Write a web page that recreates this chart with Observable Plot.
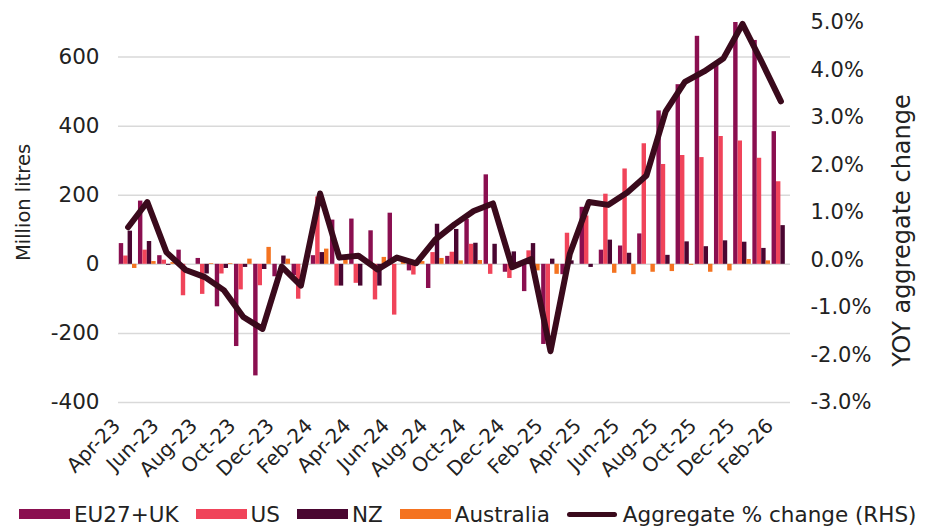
<!DOCTYPE html>
<html><head><meta charset="utf-8">
<script src="https://cdn.jsdelivr.net/npm/d3@7"></script>
<script src="https://cdn.jsdelivr.net/npm/@observablehq/plot@0.6"></script>
<style>
body{margin:0;background:#fff;font-family:"DejaVu Sans",sans-serif;}
#legend{display:flex;align-items:center;height:28px;font-size:21.5px;color:#222;padding-left:19px;white-space:nowrap}
.item{display:flex;align-items:center;margin-right:17px}
.sw{width:51px;height:10px;margin-right:4px}
.ln{width:50px;height:5px;border-radius:3px;margin-right:6px}
</style></head><body><div id="chart"></div><div id="legend"></div>
<script>
const months = ["Apr-23","May-23","Jun-23","Jul-23","Aug-23","Sep-23","Oct-23","Nov-23","Dec-23","Jan-24","Feb-24","Mar-24","Apr-24","May-24","Jun-24","Jul-24","Aug-24","Sep-24","Oct-24","Nov-24","Dec-24","Jan-25","Feb-25","Mar-25","Apr-25","May-25","Jun-25","Jul-25","Aug-25","Sep-25","Oct-25","Nov-25","Dec-25","Jan-26","Feb-26"];
const xTickLabels = ["Apr-23","Jun-23","Aug-23","Oct-23","Dec-23","Feb-24","Apr-24","Jun-24","Aug-24","Oct-24","Dec-24","Feb-25","Apr-25","Jun-25","Aug-25","Oct-25","Dec-25","Feb-26"];
const euUk = [60,183,25,41,17,-123,-238,-323,-36,-33,25,128,131,97,148,-19,-70,23,130,259,-23,-79,-232,-30,165,41,53,88,444,520,660,583,700,648,384];
const us = [24,41,12,-91,-87,-28,-74,-62,0,-101,195,-63,-55,-103,-147,-31,34,35,58,-29,-41,39,-228,90,140,203,276,349,289,315,309,370,357,307,239];
const nz = [96,66,-3,0,-28,-12,-9,-15,24,0,34,-63,-63,-63,0,0,116,101,61,58,36,60,15,10,-9,70,32,0,26,65,51,68,64,46,112];
const australia = [-12,8,5,0,2,2,15,49,15,0,44,14,0,20,8,8,17,10,11,0,0,-19,-29,0,0,-26,-30,-23,-21,-3,-23,-19,14,10,0];
const aggregatePct = [0.69,1.22,0.16,-0.21,-0.36,-0.64,-1.2,-1.45,-0.14,-0.54,1.40,0.05,0.09,-0.2,0.05,-0.07,0.43,0.75,1.03,1.19,-0.15,0.02,-1.92,0.12,1.22,1.16,1.42,1.78,3.13,3.75,3.97,4.24,4.97,4.17,3.34];
const seriesNames = ["EU27+UK","US","NZ","Australia"];
const seriesColors = ["#8a0f50","#f0445a","#4a0631","#f47320"];
const lineName = "Aggregate % change (RHS)";
const lineColor = "#3a0a1c";
const leftTicks = [-400,-200,0,200,400,600];
const rightTicks = [-3,-2,-1,0,1,2,3,4,5];
const leftDomain = [-400,700];
const rightDomain = [-3,5];

const toLeft = p => leftDomain[0] + (p - rightDomain[0]) / (rightDomain[1] - rightDomain[0]) * (leftDomain[1] - leftDomain[0]);
const toRight = v => rightDomain[0] + (v - leftDomain[0]) / (leftDomain[1] - leftDomain[0]) * (rightDomain[1] - rightDomain[0]);

const seriesValues = [euUk, us, nz, australia];
const rows = [];
months.forEach((m, i) => seriesValues.forEach((vals, k) => rows.push({i, k, series: seriesNames[k], value: vals[i]})));
const lineRows = aggregatePct.map((p, i) => ({i, p}));

const off = 0.04, bw = 0.23;
const chart = Plot.plot({
  width: 930, height: 500,
  marginLeft: 118, marginRight: 140, marginTop: 22, marginBottom: 98,
  style: {fontFamily: "DejaVu Sans", fontSize: "21px", color: "#222", background: "#fff", overflow: "visible"},
  x: {domain: [0, months.length]},
  y: {domain: leftDomain},
  color: {domain: seriesNames, range: seriesColors},
  marks: [
    Plot.ruleY(leftTicks, {stroke: "#d9d9d9", strokeWidth: 1.5}),
    Plot.rectY(rows, {x1: d => d.i + off + d.k * bw, x2: d => d.i + off + (d.k + 1) * bw, y1: d => 0, y2: d => d.value, fill: "series"}),
    Plot.line(lineRows, {x: d => d.i + 0.5, y: d => toLeft(d.p), stroke: lineColor, strokeWidth: 6, strokeLinejoin: "round", strokeLinecap: "round"}),
    Plot.axisY(leftTicks, {anchor: "left", tickSize: 0, tickPadding: 19, fontSize: 21.5, tickFormat: d => String(d), label: null}),
    Plot.axisY(rightTicks.map(toLeft), {anchor: "right", tickSize: 0, tickPadding: 20, fontSize: 21, label: null,
      tickFormat: v => { const r = Math.round(toRight(v) * 10) / 10; return (r === 0 ? 0 : r).toFixed(1) + "%"; }}),
    Plot.axisX(xTickLabels.map(l => months.indexOf(l) + 0.5), {anchor: "bottom", tickSize: 0, tickPadding: 20, dx: -11, tickRotate: -45, fontSize: 20, label: null,
      tickFormat: d => months[Math.round(d - 0.5)]}),
    Plot.text(["Million litres"], {frameAnchor: "left", textAnchor: "middle", dx: -95, dy: -10, rotate: -90, fontSize: 19.5, fill: "#222"}),
    Plot.text(["YOY aggregate change"], {frameAnchor: "right", textAnchor: "middle", dx: 112, dy: 18, rotate: -90, fontSize: 24, fill: "#222"})
  ]
});
document.getElementById("chart").appendChild(chart);

const legend = document.getElementById("legend");
seriesNames.forEach((n, k) => {
  const it = document.createElement("div"); it.className = "item";
  it.innerHTML = `<div class="sw" style="background:${seriesColors[k]}"></div><span>${n}</span>`;
  legend.appendChild(it);
});
const li = document.createElement("div"); li.className = "item";
li.innerHTML = `<div class="ln" style="background:${lineColor}"></div><span>${lineName}</span>`;
legend.appendChild(li);
</script></body></html>
